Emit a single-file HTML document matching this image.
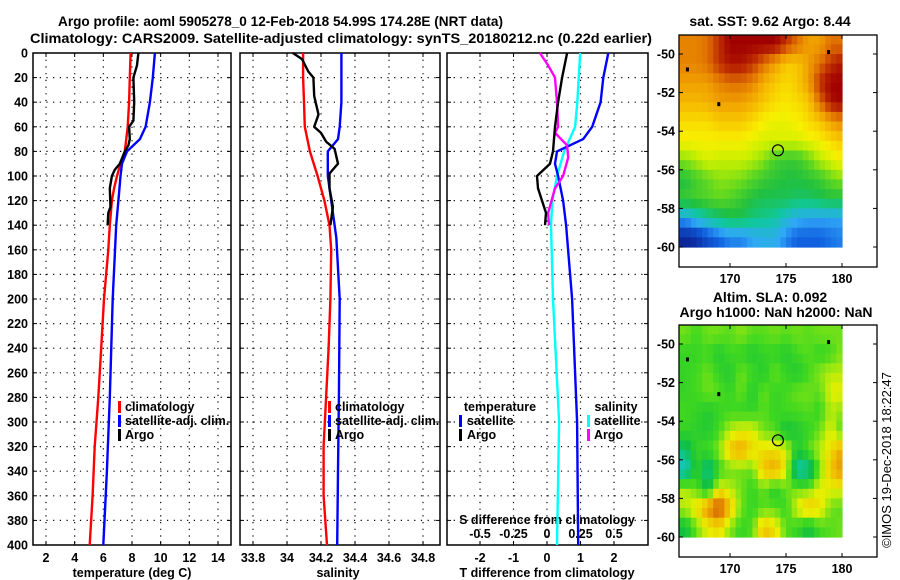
<!DOCTYPE html>
<html><head><meta charset="utf-8">
<style>
html,body{margin:0;padding:0;background:#fff;}
svg{display:block;font-family:"Liberation Sans",Arial,sans-serif;}
.t{font-weight:bold;font-size:14px;}
.tk{font-weight:bold;font-size:12.5px;}
.lg{font-weight:bold;font-size:12.5px;}
</style></head>
<body>
<svg id="fig" width="900" height="580" viewBox="0 0 900 580" xmlns="http://www.w3.org/2000/svg">
<text class="t" x="58" y="26" textLength="445" lengthAdjust="spacingAndGlyphs">Argo profile: aoml 5905278_0 12-Feb-2018 54.99S 174.28E (NRT data)</text>
<text class="t" x="30" y="43" textLength="622" lengthAdjust="spacingAndGlyphs">Climatology: CARS2009. Satellite-adjusted climatology: synTS_20180212.nc (0.22d earlier)</text>
<text class="t" x="770" y="26" text-anchor="middle">sat. SST: 9.62 Argo: 8.44</text>
<text class="t" x="770" y="302" text-anchor="middle">Altim. SLA: 0.092</text>
<text class="t" x="776" y="317" text-anchor="middle">Argo h1000: NaN h2000: NaN</text>
<text x="0" y="0" font-size="13" transform="translate(891,460) rotate(-90)" text-anchor="middle">©IMOS 19-Dec-2018 18:22:47</text>
<g id="root"></g>
</svg>
<script>
// ---------- DATA ----------
const depthTicks=[0,20,40,60,80,100,120,140,160,180,200,220,240,260,280,300,320,340,360,380,400];
const tempTicks=[2,4,6,8,10,12,14];
const salTicks=[33.8,34,34.2,34.4,34.6,34.8];
const salTickLabels=["33.8","34","34.2","34.4","34.6","34.8"];
const tdiffTicks=[-2,-1,0,1,2];
const sdiffTicks=[-0.5,-0.25,0,0.25,0.5];
const sdiffTickLabels=["-0.5","-0.25","0","0.25","0.5"];

const climTDepth=[0,20,40,60,80,90,100,110,120,140,160,200,240,280,320,360,400];
const climTemp=[7.9,7.85,7.8,7.7,7.5,7.2,6.95,6.75,6.6,6.45,6.35,6.05,5.85,5.65,5.4,5.25,5.05];
const satTDepth=[0,20,40,60,70,80,90,100,120,140,200,280,340,400];
const satTemp=[9.6,9.45,9.25,8.95,8.55,7.65,7.3,7.2,7.05,6.9,6.65,6.45,6.25,6.0];
const argoDepth=[0,10,20,40,55,60,70,75,80,90,95,100,110,125,130,140];
const argoTemp=[8.45,8.35,8.1,8.15,8.1,7.8,7.85,7.75,7.5,7.15,6.8,6.6,6.45,6.5,6.35,6.3];

const climSDepth=[0,20,40,60,80,100,120,140,160,200,240,280,320,360,400];
const climSal=[34.095,34.095,34.1,34.105,34.135,34.18,34.22,34.25,34.26,34.255,34.245,34.23,34.215,34.215,34.235];
const satSDepth=[0,40,60,70,80,100,120,150,200,280,340,400];
const satSal=[34.32,34.32,34.31,34.3,34.24,34.24,34.26,34.29,34.31,34.305,34.3,34.295];
const argoSDepth=[0,5,15,20,35,50,60,65,72,78,90,98,110,125,140];
const argoSal=[34.035,34.088,34.125,34.155,34.16,34.185,34.16,34.2,34.23,34.28,34.3,34.25,34.25,34.27,34.255];

const satTDiffDepth=[0,20,40,60,70,80,90,100,120,140,200,300,400];
const satTDiff=[1.83,1.68,1.6,1.35,1.08,0.3,0.24,0.33,0.48,0.57,0.75,0.9,0.93];
const satSDiffDepth=[0,40,60,80,100,120,140,200,300,400];
const satSDiff=[0.248,0.226,0.21,0.128,0.075,0.04,0.03,0.045,0.09,0.075];
const argoTDiffDepth=[0,20,40,60,80,90,100,110,120,130,140];
const argoTDiff=[0.6,0.45,0.33,0.24,0.18,0.09,-0.3,-0.27,-0.15,-0.03,-0.06];
const argoSDiffDepth=[0,10,20,40,60,65,75,85,100,110,130,140];
const argoSDiff=[-0.053,0.008,0.06,0.075,0.083,0.06,0.15,0.158,0.12,0.06,0.008,0.015];

const mapLonTicks=[170,175,180];
const mapLatTicks=[-50,-52,-54,-56,-58,-60];
const gridLon0=165.5, gridLat0=-49;
const sstGrid=[
[10.8,10.8,11,11.5,12,12,12,12,12,11.5,11,10.5,10.5,11,11],
[10.8,10.8,11,11.5,11.8,11.8,11.5,11,10.5,10,10,10.5,11,11.5,11.8],
[10.5,10.5,10.5,10.8,11,11,10.8,10.3,10,9.8,10,10.5,11.5,12,12],
[10.2,10.2,10.3,10.5,10.5,10.5,10.3,10,9.8,9.7,9.8,10,11,11.8,12],
[9.8,9.8,9.8,10,10,10,9.8,9.6,9.5,9.5,9.6,9.8,10,10.5,10.8],
[9.6,9.6,9.6,9.6,9.6,9.6,9.5,9.4,9.4,9.4,9.4,9.5,9.6,9.8,10],
[9,9.2,9.4,9.3,9.3,9.3,9.2,9,8.6,8.5,8.5,8.8,9.2,9.4,9.6],
[8.3,8.6,8.8,9,9,8.9,8.7,8.5,8.4,8.3,8.3,8.4,8.5,8.8,9],
[8.5,8.6,8.7,8.8,8.7,8.5,8.3,8.2,8.2,8.2,8.1,8.1,8.2,8.3,8.3],
[7.2,7.5,7.8,8,8.2,8.2,8.0,7.9,7.8,7.5,7.3,7.2,7.2,7.2,7.2],
[6.2,6.3,6.6,6.8,7,7,7.2,7.3,7.3,7,6.8,6.8,6.8,6.9,7]];
const slaGrid=[
[0.05,0.03,0.05,0.05,0.04,0.06,0.04,0.04,0.05,0.04,0.05,0.04,0.05,0.05,0.05],
[0.02,0.02,0.03,0,0.03,0.02,0,0.02,0.02,0,0.03,0.04,0.02,0.03,0.06],
[0.02,0.03,0.05,0.02,0,0.05,0.03,0,0.05,0.02,0,0.03,0.06,0.08,0.08],
[0.02,0.03,0.05,0.04,0.02,0.05,0,0.05,0.02,0.03,0.05,0.05,0.04,0.1,0.1],
[0.03,0.02,0,0.02,0.03,0.02,0.02,0.04,0.02,0.03,0.03,0.04,0.02,0.08,0.06],
[0.02,0.01,0,0.03,0.08,0.1,0.1,0.05,0.04,-0.02,0,0.02,0.05,0.1,0.03],
[-0.05,0.02,0.03,0.06,0.15,0.18,0.12,0.12,0.12,0.1,0.0,0.04,0.08,0.12,0.18],
[-0.12,0.02,-0.08,0.02,0.05,0.05,0.05,0.15,0.18,0.1,-0.1,-0.08,0.05,0.15,0.2],
[0.08,0.04,-0.03,0.1,0.08,0.05,0.02,0.05,0.0,0.05,0.05,0.05,0.1,0.1,0.1],
[0.08,0.12,0.2,0.28,0.15,0.05,0.02,0.04,0.04,0.02,0.1,0.15,0.12,0.05,0.04],
[-0.02,0.05,0.1,0.12,0.06,0.02,0.04,0.15,0.12,0.04,0.02,-0.02,0.03,0.04,0.05]];
const floatLon=[174.28], floatLat=[-54.99];

// ---------- helpers ----------
const NS="http://www.w3.org/2000/svg";
const root=document.getElementById('root');
function mk(tag,attrs,parent){const e=document.createElementNS(NS,tag);for(const k in attrs)e.setAttribute(k,attrs[k]);(parent||root).appendChild(e);return e;}
const Y0=53,Y1=545;
const yD=d=>Y0+(d/400)*(Y1-Y0);
function lin(d0,d1,p0,p1){return v=>p0+(v-d0)/(d1-d0)*(p1-p0);}

function panel(name,x0,x1,xs,vt,showY){
  const g=mk('g',{});
  
  
  vt.forEach(v=>{const l=mk('line',{x1:xs(v),x2:xs(v),y1:Y0,y2:Y1,stroke:'#000','stroke-width':1.2,'stroke-dasharray':'1.2,5.5'},g);
    });
  depthTicks.forEach(d=>{if(d>0&&d<400){const l=mk('line',{x1:x0,x2:x1,y1:yD(d),y2:yD(d),stroke:'#000','stroke-width':1.2,'stroke-dasharray':'1.2,5.5'},g);
    }
    mk('line',{x1:x0,x2:x0+4,y1:yD(d),y2:yD(d),stroke:'#000'},g);mk('line',{x1:x1-4,x2:x1,y1:yD(d),y2:yD(d),stroke:'#000'},g);
    if(showY){const t=mk('text',{x:x0-5,y:yD(d)+4.5,'text-anchor':'end',class:'tk'},g);t.textContent=d;
      }});
  vt.forEach(v=>{mk('line',{x1:xs(v),x2:xs(v),y1:Y1,y2:Y1-4,stroke:'#000'},g);mk('line',{x1:xs(v),x2:xs(v),y1:Y0,y2:Y0+4,stroke:'#000'},g);});
  const f=mk('rect',{x:x0,y:Y0,width:x1-x0,height:Y1-Y0,fill:'none',stroke:'#000','stroke-width':1.5},g);
  
  return g;
}
function series(g,name,vals,deps,xs,color,w){
  let p='';vals.forEach((v,i)=>{p+=(i?'L':'M')+xs(v).toFixed(1)+','+yD(deps[i]).toFixed(1);});
  const e=mk('path',{d:p,fill:'none',stroke:color,'stroke-width':w||2.4,'stroke-linejoin':'round'},g);
  
}
function txt(g,name,x,y,s,cls,anchor){const t=mk('text',{x:x,y:y,class:cls||'tk','text-anchor':anchor||'middle'},g);t.textContent=s;
  return t;}
function legBar(g,name,x,y,c){const r=mk('rect',{x:x,y:y-10,width:3,height:12,fill:c},g);}

// ---------- panel 1: temperature ----------
const xT=lin(2,14,46,218);
const g1=panel('temperature-panel',33,231,xT,tempTicks,true);
tempTicks.forEach(v=>txt(g1,'temp-tick-label',xT(v),562,String(v)));
txt(g1,'temperature-axis-title',132,577,'temperature (deg C)');
series(g1,'temp-climatology-line',climTemp,climTDepth,xT,'#ff0000');
series(g1,'temp-satellite-line',satTemp,satTDepth,xT,'#0000ff');
series(g1,'temp-argo-line',argoTemp,argoDepth,xT,'#000');
legBar(g1,'legend-climatology-swatch',118,411,'#ff0000');txt(g1,'legend-climatology',125,411,'climatology','lg','start');
legBar(g1,'legend-satellite-swatch',118,425,'#0000ff');txt(g1,'legend-satellite',125,425,'satellite-adj. clim.','lg','start');
legBar(g1,'legend-argo-swatch',118,439,'#000');txt(g1,'legend-argo',125,439,'Argo','lg','start');

// ---------- panel 2: salinity ----------
const xS=lin(34,34.8,287,423);
const g2=panel('salinity-panel',240,440,xS,salTicks,false);
salTicks.forEach((v,i)=>txt(g2,'sal-tick-label',xS(v),562,salTickLabels[i]));
txt(g2,'salinity-axis-title',338,577,'salinity');
series(g2,'sal-climatology-line',climSal,climSDepth,xS,'#ff0000');
series(g2,'sal-satellite-line',satSal,satSDepth,xS,'#0000ff');
series(g2,'sal-argo-line',argoSal,argoSDepth,xS,'#000');
legBar(g2,'legend2-climatology-swatch',328,411,'#ff0000');txt(g2,'legend2-climatology',335,411,'climatology','lg','start');
legBar(g2,'legend2-satellite-swatch',328,425,'#0000ff');txt(g2,'legend2-satellite',335,425,'satellite-adj. clim.','lg','start');
legBar(g2,'legend2-argo-swatch',328,439,'#000');txt(g2,'legend2-argo',335,439,'Argo','lg','start');

// ---------- panel 3: differences ----------
const xTd=lin(0,1,547,580.5), xSd=lin(0,0.5,547,614);
const g3=panel('difference-panel',447,648,xTd,tdiffTicks,false);
tdiffTicks.forEach(v=>txt(g3,'tdiff-tick-label',xTd(v),562,String(v)));
sdiffTicks.forEach((v,i)=>txt(g3,'sdiff-tick-label',xSd(v),538,sdiffTickLabels[i]));
txt(g3,'sdiff-axis-title',547,524,'S difference from climatology');
txt(g3,'tdiff-axis-title',547,577,'T difference from climatology');
series(g3,'sdiff-satellite-line',satSDiff,satSDiffDepth,xSd,'#00ffff');
series(g3,'tdiff-satellite-line',satTDiff,satTDiffDepth,xTd,'#0000ff');
series(g3,'sdiff-argo-line',argoSDiff,argoSDiffDepth,xSd,'#ff00ff');
series(g3,'tdiff-argo-line',argoTDiff,argoTDiffDepth,xTd,'#000');
txt(g3,'legend3-temperature-heading',500,411,'temperature','lg');
legBar(g3,'legend3-tsat-swatch',459,425,'#0000ff');txt(g3,'legend3-tsat',467,425,'satellite','lg','start');
legBar(g3,'legend3-targo-swatch',459,439,'#000');txt(g3,'legend3-targo',467,439,'Argo','lg','start');
txt(g3,'legend3-salinity-heading',616,411,'salinity','lg');
legBar(g3,'legend3-ssat-swatch',587,425,'#00ffff');txt(g3,'legend3-ssat',594,425,'satellite','lg','start');
legBar(g3,'legend3-sargo-swatch',587,439,'#ff00ff');txt(g3,'legend3-sargo',594,439,'Argo','lg','start');

// ---------- maps ----------
const sstStops=[[6,[10,20,130]],[6.8,[16,96,224]],[7.2,[48,168,248]],[7.8,[16,200,160]],[8.3,[32,192,64]],[8.8,[96,216,32]],[9.3,[200,240,0]],[9.6,[248,240,0]],[10,[248,200,0]],[10.5,[240,160,0]],[11,[224,112,0]],[11.5,[192,48,0]],[12,[160,0,0]]];
const slaStops=[[-0.15,[32,192,224]],[-0.08,[16,200,160]],[-0.02,[16,192,64]],[0.03,[64,216,32]],[0.07,[160,232,16]],[0.1,[232,240,0]],[0.15,[240,192,0]],[0.2,[232,144,0]],[0.28,[192,64,0]]];
function colorOf(stops,v){
  if(v<=stops[0][0])return 'rgb('+stops[0][1].join(',')+')';
  for(let i=1;i<stops.length;i++){if(v<=stops[i][0]){const a=stops[i-1],b=stops[i],t=(v-a[0])/(b[0]-a[0]);
    return 'rgb('+a[1].map((c,k)=>Math.round(c+(b[1][k]-c)*t)).join(',')+')';}}
  return 'rgb('+stops[stops.length-1][1].join(',')+')';
}
function sample(grid,lon,lat){ // bilinear on cell centres
  const fi=Math.max(0,Math.min(grid[0].length-1,lon-gridLon0-0.5));
  const fj=Math.max(0,Math.min(grid.length-1,gridLat0-lat-0.5));
  const i0=Math.floor(fi),j0=Math.floor(fj),i1=Math.min(i0+1,grid[0].length-1),j1=Math.min(j0+1,grid.length-1);
  const tx=fi-i0,ty=fj-j0;
  return (grid[j0][i0]*(1-tx)+grid[j0][i1]*tx)*(1-ty)+(grid[j1][i0]*(1-tx)+grid[j1][i1]*tx)*ty;
}
function map(name,top,grid,stops,cellName){
  const x0=679,x1=877,y1=top+232;
  const lx=lin(170,180,730,842);
  const ly=lin(-50,-60,top+19,top+212);
  const g=mk('g',{});
  
  const step=0.5;
  for(let lat=gridLat0;lat>-60+1e-6;lat-=step){
    for(let lon=gridLon0;lon<180-1e-6;lon+=step){
      const v=sample(grid,lon+step/2,lat-step/2);
      const xa=Math.max(lx(lon),x0),xb=lx(Math.min(lon+step,180));
      const ya=Math.max(ly(lat),top),yb=ly(lat-step);
      const r=mk('rect',{x:xa.toFixed(1),y:ya.toFixed(1),width:(xb-xa+0.6).toFixed(1),height:(yb-ya+0.6).toFixed(1),fill:colorOf(stops,v)},g);
      
    }
  }
  [[166.2,-50.8],[169.0,-52.6],[178.8,-49.9]].forEach(p=>{const r=mk('rect',{x:lx(p[0])-1.5,y:ly(p[1])-2,width:3,height:4,fill:'#000'},g);
    });
  const c=mk('circle',{cx:lx(floatLon[0]),cy:ly(floatLat[0]),r:5.5,fill:'none',stroke:'#000','stroke-width':1.2},g);
  
  const f=mk('rect',{x:x0,y:top,width:x1-x0,height:y1-top,fill:'none',stroke:'#000','stroke-width':1.3},g);
  
  mapLonTicks.forEach(v=>{mk('line',{x1:lx(v),x2:lx(v),y1:y1,y2:y1-4,stroke:'#000'},g);mk('line',{x1:lx(v),x2:lx(v),y1:top,y2:top+4,stroke:'#000'},g);
    txt(g,'lon-tick-label',lx(v),y1+16,String(v));});
  mapLatTicks.forEach(v=>{mk('line',{x1:x0,x2:x0+4,y1:ly(v),y2:ly(v),stroke:'#000'},g);mk('line',{x1:x1-4,x2:x1,y1:ly(v),y2:ly(v),stroke:'#000'},g);
    txt(g,'lat-tick-label',x0-4,ly(v)+4.5,String(v),'tk','end');});
}
map('sst-map',35,sstGrid,sstStops,'sst-cell');
map('sla-map',325,slaGrid,slaStops,'sla-cell');
</script>
</body></html>
